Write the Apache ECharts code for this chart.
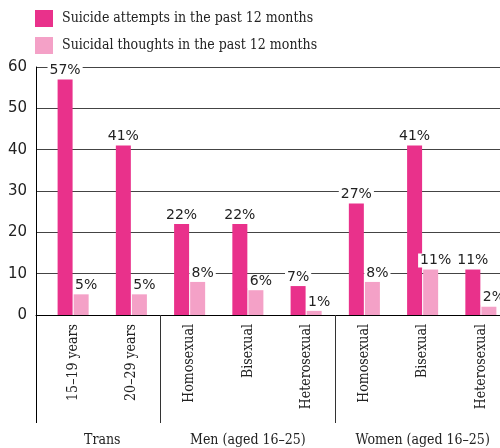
<!DOCTYPE html>
<html><head><meta charset="utf-8">
<script src="https://cdn.jsdelivr.net/npm/echarts@6/dist/echarts.min.js"></script>
<style>html,body{margin:0;padding:0;background:#fff}#c{width:500px;height:448px}</style>
</head><body><div id="c"></div>
<script>
const categories = ['15–19 years','20–29 years','Homosexual','Bisexual','Heterosexual','Homosexual','Bisexual','Heterosexual'];
const groups = [{pos:0.5,name:'Trans'},{pos:3,name:'Men (aged 16–25)'},{pos:6,name:'Women (aged 16–25)'}];
const attempts = [57,41,22,22,7,27,41,11];
const thoughts = [5,5,8,6,1,8,11,2];
const seriesNames = ['Suicide attempts in the past 12 months','Suicidal thoughts in the past 12 months'];
const yTicks = {min:0,max:60,interval:10};

const slab = 'DejaVu Serif Condensed';
const sans = 'DejaVu Sans';
const gTop = 67, gHeight = 248;
const chart = echarts.init(document.getElementById('c'));
const lbl = {show:true,position:'top',distance:2,formatter:'{c}%',fontFamily:sans,fontSize:14,color:'#222',backgroundColor:'#fff',padding:[0,2]};
chart.setOption({
  animation:false,
  legend:{left:30,top:5,orient:'vertical',itemWidth:18,itemHeight:17,itemGap:10,icon:'rect',
    textStyle:{fontFamily:slab,fontSize:14,color:'#222',padding:[0,0,0,4]}},
  grid:[{left:36,right:-1,top:gTop,height:gHeight,containLabel:false,outerBoundsMode:'none'},
        {left:44,right:-10,top:gTop,height:gHeight,containLabel:false,outerBoundsMode:'none'}],
  xAxis:[
    {gridIndex:0,type:'value',min:0,max:1,interval:1,position:'bottom',axisLine:{lineStyle:{color:'#000',width:1}},
     axisTick:{show:true,length:108,lineStyle:{color:'#000'}},axisLabel:{show:false},splitLine:{show:false}},
    {gridIndex:1,type:'category',data:categories,position:'bottom',axisLine:{show:false},
     axisTick:{show:true,length:108,interval:function(i){return i===2||i===5;},lineStyle:{color:'#333'}},
     axisLabel:{rotate:90,margin:9,fontFamily:slab,fontSize:14,color:'#222',interval:0}},
    {gridIndex:1,type:'value',min:-0.5,max:7.5,interval:0.5,position:'bottom',offset:0,axisLine:{show:false},axisTick:{show:false},splitLine:{show:false},
     axisLabel:{margin:118,fontFamily:slab,fontSize:14,color:'#222',showMinLabel:true,showMaxLabel:true,hideOverlap:false,
       formatter:function(v){const g=groups.find(g=>Math.abs(g.pos-v)<1e-6);return g?g.name:'';}}}
  ],
  yAxis:[
    {gridIndex:0,type:'value',min:yTicks.min,max:yTicks.max,interval:yTicks.interval,
     axisLine:{show:true,lineStyle:{color:'#000'}},axisTick:{show:false},
     axisLabel:{fontFamily:sans,fontSize:15,color:'#222',margin:9},
     splitLine:{lineStyle:{color:'#444',width:1}}},
    {gridIndex:1,type:'value',min:yTicks.min,max:yTicks.max,interval:yTicks.interval,show:false,splitLine:{show:false}}
  ],
  series:[
    {name:seriesNames[0],type:'bar',xAxisIndex:1,yAxisIndex:1,data:attempts,barWidth:15,barGap:'7%',
     itemStyle:{color:'#E9318B'},label:lbl},
    {name:seriesNames[1],type:'bar',xAxisIndex:1,yAxisIndex:1,data:thoughts,barWidth:15,barGap:'7%',
     itemStyle:{color:'#F4A1C7'},label:Object.assign({},lbl,{offset:[5,0]})}
  ]
});
</script></body></html>
